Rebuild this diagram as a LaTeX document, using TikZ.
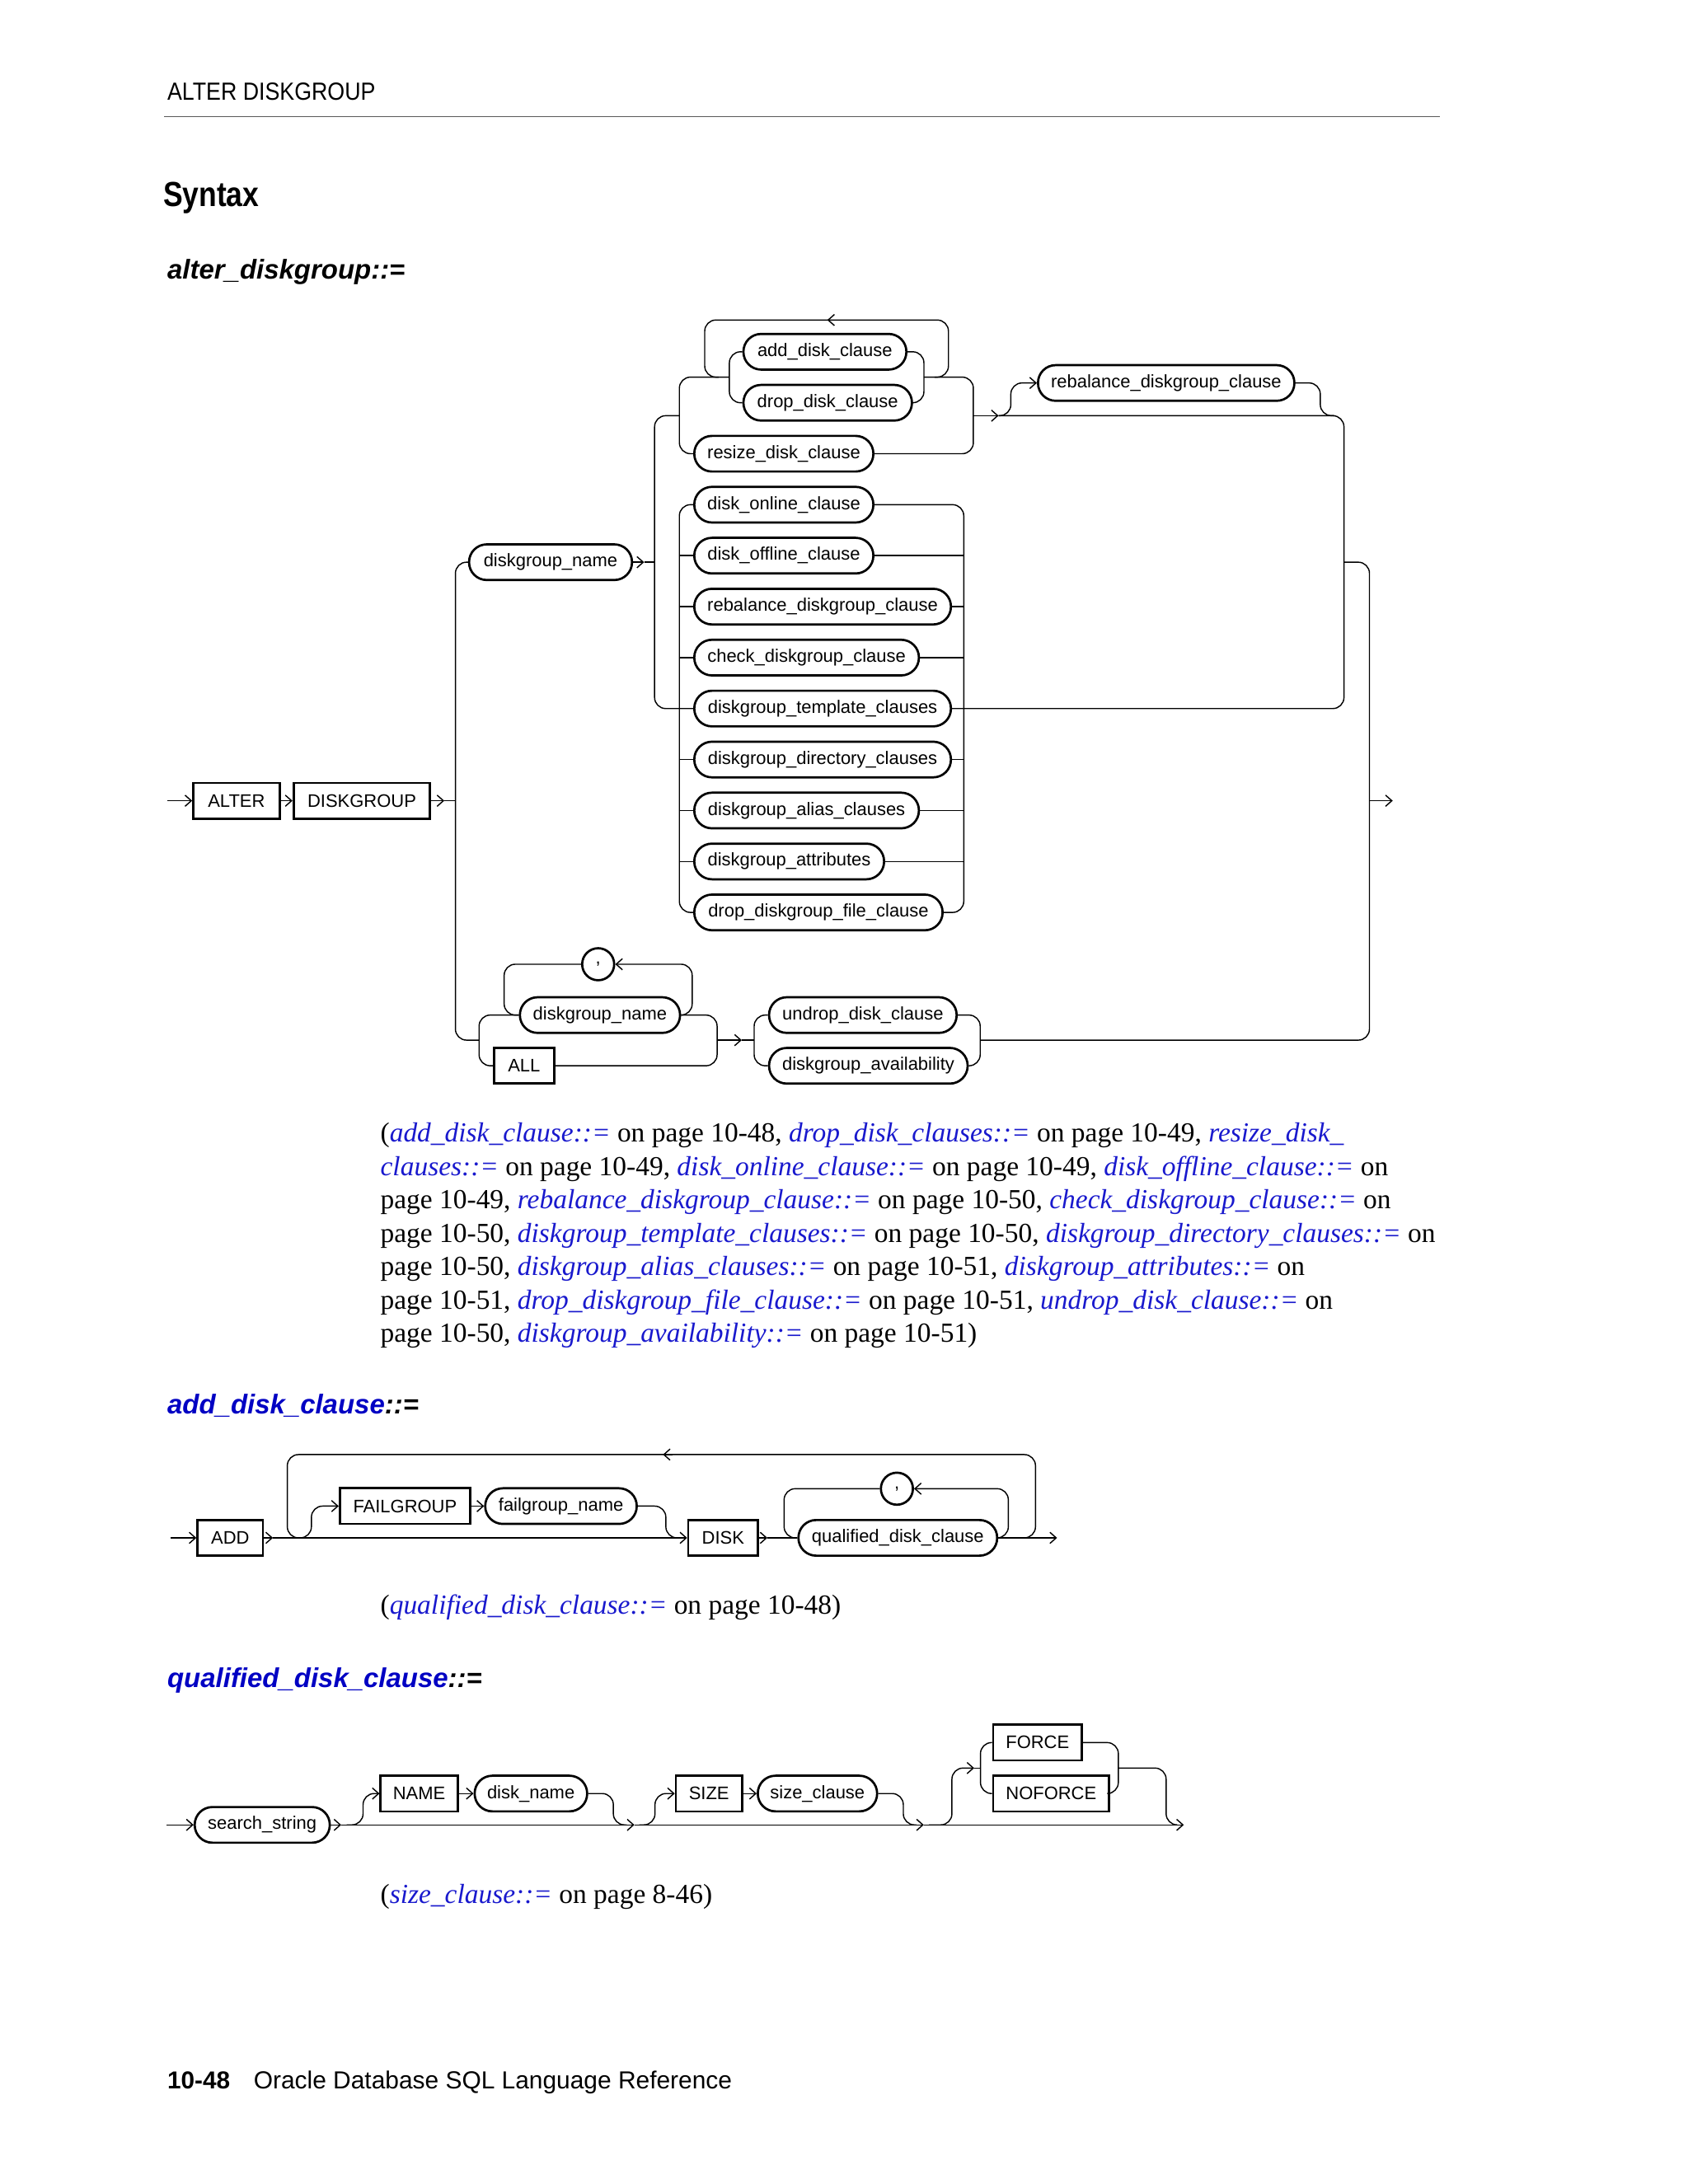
\documentclass[tikz,border=0pt]{standalone}
\usepackage{fontspec}
\setmainfont{Liberation Serif}
\setsansfont{Liberation Sans}
\newfontfamily\dgfont{Liberation Sans}
\newfontfamily\hdfont[FakeStretch=0.89]{Liberation Sans}
\newfontfamily\synfont[FakeStretch=0.84]{Liberation Sans}
\usetikzlibrary{arrows.meta}
\definecolor{hblue}{RGB}{0,0,195}
\definecolor{lblue}{RGB}{25,25,205}
\newcommand{\lk}[1]{\textcolor{lblue}{\textit{#1}}}
\newcommand{\dgf}{\dgfont\fontsize{13}{15}\selectfont}
\newcommand{\parf}{\rmfamily\fontsize{19.8}{24}\selectfont}
\begin{document}
\begin{tikzpicture}[x=1pt,y=-1pt,
  ln/.style={line width=0.85pt, rounded corners=8pt},
  arr/.style={-{Straight Barb[length=4.5pt,width=8pt]}, line width=0.85pt},
  pill/.style={draw, line width=1.6pt, rounded corners=12.7pt, minimum height=25.6pt, inner sep=0pt, anchor=west, font=\dgf},
  kw/.style={draw, line width=1.6pt, minimum height=25.6pt, inner sep=0pt, anchor=west, font=\dgf},
  comma/.style={draw, circle, line width=1.6pt, minimum size=23pt, inner sep=0pt, font=\dgf},
  txt/.style={anchor=base west, inner sep=0pt}]
\useasboundingbox (0,0) rectangle (1212,1568.3);

% ---------- page texts ----------
\node[txt] (hdr) at (120,72) {\hdfont\fontsize{17.8}{20}\selectfont ALTER DISKGROUP};
\draw[line width=1pt, black!65] (118,83.8) -- (1034,83.8);
\node[txt] (syn) at (117,148) {\synfont\bfseries\fontsize{25}{28}\selectfont Syntax};
\node[txt] (h1) at (120,200.5) {\sffamily\bfseries\itshape\fontsize{19.5}{22}\selectfont alter\_diskgroup::=};

% ---------- alter_diskgroup diagram ----------
\node[kw, minimum width=62] (alter) at (138,575) {ALTER};
\node[kw, minimum width=98] (dg) at (210,575) {DISKGROUP};
\node[pill, minimum width=117] (dgn1) at (336,403.7) {diskgroup\_name};
\node[pill, minimum width=117] (add) at (533,252.6) {add\_disk\_clause};
\node[pill, minimum width=121] (drop) at (533,289.2) {drop\_disk\_clause};
\node[pill, minimum width=128.6] (resize) at (497.7,325.8) {resize\_disk\_clause};
\node[pill, minimum width=184.1] (reb1) at (744.5,275) {rebalance\_diskgroup\_clause};
\node[pill, minimum width=128.6] (online) at (497.7,362.4) {disk\_online\_clause};
\node[pill, minimum width=128.6] (offline) at (497.7,399.0) {disk\_offline\_clause};
\node[pill, minimum width=184.3] (rebal) at (497.7,435.6) {rebalance\_diskgroup\_clause};
\node[pill, minimum width=161.3] (check) at (497.7,472.2) {check\_diskgroup\_clause};
\node[pill, minimum width=184.3] (templ) at (497.7,508.8) {diskgroup\_template\_clauses};
\node[pill, minimum width=184.3] (dir) at (497.7,545.4) {diskgroup\_directory\_clauses};
\node[pill, minimum width=161.3] (alias) at (497.7,582.0) {diskgroup\_alias\_clauses};
\node[pill, minimum width=136.3] (attr) at (497.7,618.6) {diskgroup\_attributes};
\node[pill, minimum width=178.3] (dfile) at (497.7,655.2) {drop\_diskgroup\_file\_clause};
\node[comma] (c1) at (429.5,692.4) {,};
\node[pill, minimum width=115] (dgn2) at (372.5,728.9) {diskgroup\_name};
\node[kw, minimum width=43] (all) at (354,765.3) {ALL};
\node[pill, minimum width=134.7] (undrop) at (551.4,728.9) {undrop\_disk\_clause};
\node[pill, minimum width=142.6] (avail) at (551.4,765.3) {diskgroup\_availability};

\coordinate (start1) at (120,575);
\coordinate (end1) at (1000,575);
\draw[arr] (start1) -- (alter.west);
\draw[arr] (alter.east) -- (dg.west);
\draw[arr] (dg.east) -- (319,575);
\draw[ln] (319,575) -- (327,575);
\draw[ln] (dgn1.west) -- (327,403.7) -- (327,746.9) -- (344,746.9);
\draw[arr] (dgn1.east) -- (462.5,403.7);
\draw[ln] (462.5,403.7) -- (470,403.7);
% bar E
\draw[ln] (487.8,298.5) -- (470,298.5) -- (470,508.8) -- (templ.west);
% top group
\draw[ln] (523.7,270.8) -- (487.8,270.8) -- (487.8,325.8) -- (resize.west);
\draw[ln] (663.4,270.8) -- (698.9,270.8) -- (698.9,325.8) -- (resize.east);
\draw[ln] (add.west) -- (523.7,252.6) -- (523.7,289.2) -- (drop.west);
\draw[ln] (add.east) -- (663.4,252.6) -- (663.4,289.2) -- (drop.east);
\draw[ln] (671,270.8) -- (681,270.8) -- (681,229.8) -- (506,229.8) -- (506,270.8) -- (516,270.8);
\draw[arr] (601,229.8) -- (594,229.8);
\draw[arr] (698.9,298.5) -- (717,298.5);
% optional rebalance
\draw[ln,arr] (717,298.5) -- (725.8,298.5) -- (725.8,275) -- (reb1.west);
\draw[ln] (reb1.east) -- (948,275) -- (948,298.5) -- (958,298.5);
\draw[ln] (717,298.5) -- (965,298.5) -- (965,508.8) -- (templ.east);
% lower group
\draw[ln] (online.west) -- (487.8,362.4) -- (487.8,655.2) -- (dfile.west);
\draw[ln] (online.east) -- (692,362.4) -- (692,655.2) -- (dfile.east);
\foreach \n/\y in {offline/399.0, rebal/435.6, check/472.2, dir/545.4, alias/582.0, attr/618.6}{
  \draw[ln] (487.8,\y) -- (\n.west);
  \draw[ln] (\n.east) -- (692,\y);
}
% bar H and exit
\draw[ln] (965,403.7) -- (983.3,403.7) -- (983.3,746.9) -- (703.8,746.9);
\draw[arr] (983.3,575) -- (end1);
% bottom branch
\draw[ln] (dgn2.west) -- (344,728.9) -- (344,765.3) -- (all.west);
\draw[ln,arr] (dgn2.east) -- (497,728.9) -- (497,692.4) -- (c1.east);
\draw[ln] (c1.west) -- (362,692.4) -- (362,728.9) -- (dgn2.west);
\draw[ln] (dgn2.east) -- (514.9,728.9) -- (514.9,765.3) -- (all.east);
\draw[arr] (514.9,746.9) -- (532.6,746.9);
\draw[ln] (532.6,746.9) -- (541.5,746.9);
\draw[ln] (undrop.west) -- (541.5,728.9) -- (541.5,765.3) -- (avail.west);
\draw[ln] (undrop.east) -- (703.8,728.9) -- (703.8,765.3) -- (avail.east);

% ---------- reference paragraph ----------
\node[txt] (p1) at (273,820) {\parf (\lk{add\_disk\_clause::=} on page 10-48, \lk{drop\_disk\_clauses::=} on page 10-49, \lk{resize\_disk\_}};
\node[txt] (p2) at (273,844) {\parf \lk{clauses::=} on page 10-49, \lk{disk\_online\_clause::=} on page 10-49, \lk{disk\_offline\_clause::=} on};
\node[txt] (p3) at (273,868) {\parf page 10-49, \lk{rebalance\_diskgroup\_clause::=} on page 10-50, \lk{check\_diskgroup\_clause::=} on};
\node[txt] (p4) at (273,892) {\parf page 10-50, \lk{diskgroup\_template\_clauses::=} on page 10-50, \lk{diskgroup\_directory\_clauses::=} on};
\node[txt] (p5) at (273,916) {\parf page 10-50, \lk{diskgroup\_alias\_clauses::=} on page 10-51, \lk{diskgroup\_attributes::=} on};
\node[txt] (p6) at (273,940) {\parf page 10-51, \lk{drop\_diskgroup\_file\_clause::=} on page 10-51, \lk{undrop\_disk\_clause::=} on};
\node[txt] (p7) at (273,964) {\parf page 10-50, \lk{diskgroup\_availability::=} on page 10-51)};

% ---------- add_disk_clause ----------
\node[txt] (h2) at (120,1015) {\sffamily\bfseries\itshape\fontsize{19.5}{22}\selectfont\textcolor{hblue}{add\_disk\_clause}::=};
\node[kw, minimum width=47] (addk) at (141,1104.3) {ADD};
\node[kw, minimum width=93.6] (fg) at (243.2,1081.5) {FAILGROUP};
\node[pill, minimum width=108.8] (fgn) at (347.6,1081.5) {failgroup\_name};
\node[kw, minimum width=50] (disk) at (493.4,1104.3) {DISK};
\node[comma] (c2) at (644,1069) {,};
\node[pill, minimum width=142.7] (qdc) at (572.5,1104.3) {qualified\_disk\_clause};
\coordinate (start2) at (122.7,1104.3);
\coordinate (end2) at (759,1104.3);
\draw[arr] (start2) -- (addk.west);
\draw[arr] (addk.east) -- (196,1104.3);
\draw[ln,arr] (196,1104.3) -- (disk.west);
\draw[ln] (733.5,1104.3) -- (743.5,1104.3) -- (743.5,1044.5) -- (206.3,1044.5) -- (206.3,1104.3) -- (216.3,1104.3);
\draw[arr] (483,1044.5) -- (476,1044.5);
\draw[ln,arr] (213,1104.3) -- (223.6,1104.3) -- (223.6,1081.5) -- (fg.west);
\draw[arr] (fg.east) -- (fgn.west);
\draw[ln] (fgn.east) -- (478.1,1081.5) -- (478.1,1104.3) -- (488,1104.3);
\draw[arr] (disk.east) -- (551,1104.3);
\draw[ln] (551,1104.3) -- (qdc.west);
\draw[ln,arr] (qdc.east) -- (724,1104.3) -- (724,1069) -- (c2.east);
\draw[ln] (c2.west) -- (563,1069) -- (563,1104.3) -- (qdc.west);
\draw[ln,arr] (qdc.east) -- (end2);
\node[txt] (r2) at (273,1159) {\parf (\lk{qualified\_disk\_clause::=} on page 10-48)};

% ---------- qualified_disk_clause ----------
\node[txt] (h3) at (120,1212) {\sffamily\bfseries\itshape\fontsize{19.5}{22}\selectfont\textcolor{hblue}{qualified\_disk\_clause}::=};
\node[pill, minimum width=97] (ss) at (139,1310.4) {search\_string};
\node[kw, minimum width=55.4] (nm) at (272.5,1287.9) {NAME};
\node[pill, minimum width=80.8] (dn) at (340,1287.9) {disk\_name};
\node[kw, minimum width=47.5] (sz) at (484.5,1287.9) {SIZE};
\node[pill, minimum width=85.7] (sc) at (543.3,1287.9) {size\_clause};
\node[kw, minimum width=63.7] (force) at (712.3,1251.3) {FORCE};
\node[kw, minimum width=83.3] (noforce) at (712.3,1287.9) {NOFORCE};
\coordinate (start3) at (119.4,1310.4);
\coordinate (end3) at (850,1310.4);
\draw[arr] (start3) -- (ss.west);
\draw[arr] (ss.east) -- (245,1310.4);
\draw[ln,arr] (245,1310.4) -- (455.5,1310.4);
\draw[ln,arr] (455.5,1310.4) -- (663.3,1310.4);
\draw[ln,arr] (663.3,1310.4) -- (end3);
\draw[ln,arr] (249,1310.4) -- (260.7,1310.4) -- (260.7,1287.9) -- (nm.west);
\draw[arr] (nm.east) -- (dn.west);
\draw[ln] (dn.east) -- (440.4,1287.9) -- (440.4,1310.4) -- (450,1310.4);
\draw[ln,arr] (459,1310.4) -- (470.3,1310.4) -- (470.3,1287.9) -- (sz.west);
\draw[arr] (sz.east) -- (sc.west);
\draw[ln] (sc.east) -- (648.6,1287.9) -- (648.6,1310.4) -- (658,1310.4);
\draw[ln,arr] (667,1310.4) -- (683.5,1310.4) -- (683.5,1269.6) -- (699.5,1269.6);
\draw[ln] (699.5,1269.6) -- (704,1269.6);
\draw[ln] (force.west) -- (704,1251.3) -- (704,1287.9) -- (noforce.west);
\draw[ln] (force.east) -- (803,1251.3) -- (803,1287.9) -- (noforce.east);
\draw[ln] (803,1269.6) -- (837.3,1269.6) -- (837.3,1310.4) -- (845,1310.4);
\node[txt] (r3) at (273,1367) {\parf (\lk{size\_clause::=} on page 8-46)};

% ---------- footer ----------
\node[txt] (f1) at (120,1500) {\sffamily\bfseries\fontsize{17.6}{20}\selectfont 10-48};
\node[txt] (f2) at (182,1500) {\sffamily\fontsize{17.7}{20}\selectfont Oracle Database SQL Language Reference};
\end{tikzpicture}
\end{document}
